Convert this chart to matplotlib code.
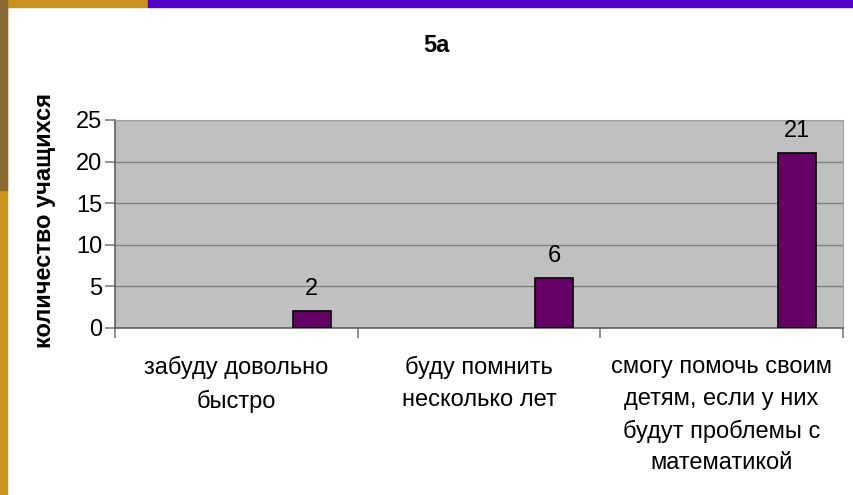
import numpy as np
import matplotlib.pyplot as plt
from matplotlib.patches import Rectangle

# survey answers for class 5a
categories = ["забуду довольно\nбыстро",
              "буду помнить\nнесколько лет",
              "смогу помочь своим\nдетям, если у них\nбудут проблемы с\nматематикой"]
counts = [2, 6, 21]
yticks = [0, 5, 10, 15, 20, 25]

plt.rcParams['font.family'] = ['Liberation Sans', 'DejaVu Sans']

W, H = 854, 495
fig = plt.figure(figsize=(W / 100, H / 100), dpi=100)
fig.patch.set_facecolor("white")

# slide frame: golden strip on the left and top, purple band on top
fig.patches.append(Rectangle((0, 0), 7 / W, 1, transform=fig.transFigure,
                             color="#c8961e", zorder=0))
fig.patches.append(Rectangle((0, 1 - 7 / H), 148 / W, 7 / H, transform=fig.transFigure,
                             color="#c8921e", zorder=0))
fig.patches.append(Rectangle((148 / W, 1 - 7 / H), 1 - 148 / W, 7 / H,
                             transform=fig.transFigure, color="#5200c8", zorder=0))
fig.patches.append(Rectangle((0, 1 - 190 / H), 7 / W, 190 / H, transform=fig.transFigure,
                             color="#8a6a34", zorder=0))

left, right, top, bottom = 115, 843, 120, 328
ax = fig.add_axes([left / W, 1 - bottom / H, (right - left) / W, (bottom - top) / H])
ax.set_facecolor("#c0c0c0")

x = np.arange(len(categories))
bars = ax.bar(x + 0.31, counts, width=0.157, color="#660066",
              edgecolor="black", linewidth=1.2, zorder=3)
for b, v in zip(bars, counts):
    ax.annotate(str(v), (b.get_x() + b.get_width() / 2, v), xytext=(0, 16),
                textcoords="offset points", ha="center", va="center", fontsize=17)

ax.set_xlim(-0.5, len(categories) - 0.5)
ax.set_ylim(0, 25)
ax.set_yticks(yticks)
ax.yaxis.grid(True, color="#808080", linewidth=1, zorder=1)
ax.set_axisbelow(True)

ax.set_xticks(np.arange(len(categories) + 1) - 0.5)
ax.set_xticklabels([])
ax.tick_params(axis="x", length=7, color="#808080", width=1.2)
ax.tick_params(axis="y", length=7, color="#808080", width=1.2, labelsize=17, pad=2)
for i, c in enumerate(categories):
    ax.text(i, -3.4, c, ha="center", va="top", fontsize=17, linespacing=1.55)

for s in ["top", "right"]:
    ax.spines[s].set_color("#a0a0a0")
for s in ["left", "bottom"]:
    ax.spines[s].set_color("#606060")
    ax.spines[s].set_linewidth(1.2)

fig.text(436 / W, 1 - 45 / H, "5а", ha="center", va="center",
         fontsize=17, fontweight="bold")
fig.text(45 / W, 1 - 220 / H, "количество учащихся", rotation=90, ha="center",
         va="center", fontsize=17, fontweight="bold")

fig.savefig("out.png", dpi=100)
